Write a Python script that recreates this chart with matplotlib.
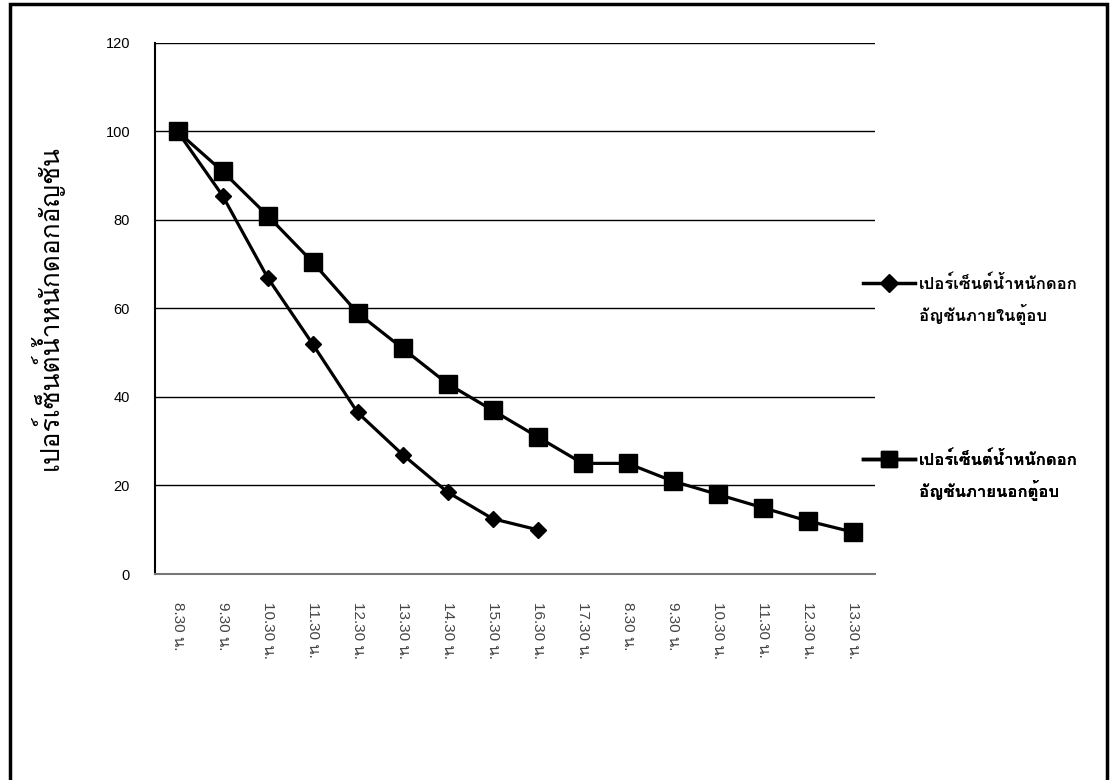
import matplotlib
matplotlib.use('Agg')
import matplotlib.pyplot as plt
from matplotlib import font_manager
from matplotlib.ft2font import FT2Font
from matplotlib.lines import Line2D
from matplotlib.patches import Rectangle

# sampling times over two days
times = ['8.30 น.', '9.30 น.', '10.30 น.', '11.30 น.', '12.30 น.', '13.30 น.',
         '14.30 น.', '15.30 น.', '16.30 น.', '17.30 น.', '8.30 น.', '9.30 น.',
         '10.30 น.', '11.30 น.', '12.30 น.', '13.30 น.']
# percent weight, dried inside the oven
inside = [100, 85.5, 67, 52, 36.5, 27, 18.5, 12.5, 10]
# percent weight, dried outside the oven
outside = [100, 91, 81, 70.5, 59, 51, 43, 37, 31, 25, 25, 21, 18, 15, 12, 9.5]

label_in = ['เปอร์เซ็นต์น้ำหนักดอก', 'อัญชันภายในตู้อบ']
label_out = ['เปอร์เซ็นต์น้ำหนักดอก', 'อัญชันภายนอกตู้อบ']
ylabel = 'เปอร์เซ็นต์น้ำหนักดอกอัญชัน'


def thai_family():
    # first installed font that has Thai glyphs
    for f in font_manager.fontManager.ttflist:
        try:
            if 0x0E01 in FT2Font(f.fname).get_charmap():
                return f.name
        except Exception:
            pass
    return 'DejaVu Sans'


thai = thai_family()
plt.rcParams['font.family'] = ['Liberation Sans', thai, 'DejaVu Sans']

fig = plt.figure(figsize=(11.17, 7.8), dpi=100)
ax = fig.add_axes([0.1388, 0.2641, 0.6446, 0.6808])

x = list(range(len(times)))
ax.plot(x[:len(inside)], inside, color='black', lw=2.3, marker='D', ms=8, zorder=3)
ax.plot(x, outside, color='black', lw=2.3, marker='s', ms=13, zorder=3)

ax.set_xlim(-0.5, len(times) - 0.5)
ax.set_ylim(0, 120)
ax.set_yticks(range(0, 121, 20))
ax.set_xticks(x)
ax.set_xticklabels(times, rotation=270, va='top', ha='center', fontsize=11, color='#444444')
ax.tick_params(axis='both', length=0)
ax.tick_params(axis='y', pad=18, labelsize=10.5)
ax.tick_params(axis='x', pad=20)
ax.grid(axis='y', color='black', lw=1)
ax.set_axisbelow(True)
for s in ['top', 'right']:
    ax.spines[s].set_visible(False)
ax.spines['left'].set_linewidth(1.5)
ax.spines['bottom'].set_color('#777777')
ax.spines['bottom'].set_linewidth(1.5)

fig.text(0.042, 0.606, ylabel, rotation=90, ha='center', va='center',
         fontsize=19, family=[thai, 'DejaVu Sans'])

# one legend per series, marker level with the first line of the label
legend_font = font_manager.FontProperties(family=[thai, 'DejaVu Sans'], size=12, weight='bold')
blank = Line2D([], [], color='none')
entries = [
    (Line2D([], [], color='black', lw=2.5, marker='D', ms=9), label_in, 266),
    (Line2D([], [], color='black', lw=2.5, marker='s', ms=11), label_out, 442),
]
for handle, lab, top in entries:
    leg = ax.legend([handle, blank], lab, loc='upper left',
                    bbox_to_anchor=(855 / 1117, 1 - top / 780),
                    bbox_transform=fig.transFigure, frameon=False, borderpad=0,
                    handlelength=3.1, handletextpad=0.25, labelspacing=0.75,
                    prop=legend_font)
    ax.add_artist(leg)

# page frame
fig.patches.append(Rectangle((0.009, -0.05), 0.982, 1.045, transform=fig.transFigure,
                             fill=False, lw=2.5, edgecolor='black'))

fig.savefig('out.png', dpi=100)
